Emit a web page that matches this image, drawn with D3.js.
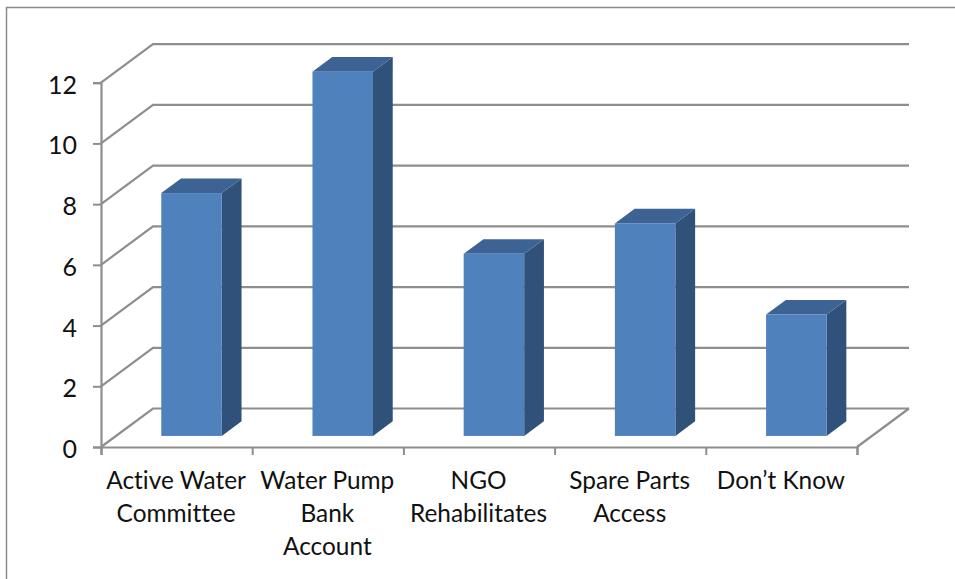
<!DOCTYPE html>
<html>
<head>
<meta charset="utf-8">
<script src="https://cdn.jsdelivr.net/npm/d3@7"></script>
<style>
html, body { margin: 0; padding: 0; background: #fff; }
svg { display: block; }
text { font-family: Lato, "Open Sans", sans-serif; fill: #111; font-variant-ligatures: none; }
</style>
</head>
<body>
<svg id="chart" width="955" height="579"></svg>
<script>
// Survey responses shown as a pseudo-3D column chart
const categories = ["Active Water Committee", "Water Pump Bank Account", "NGO Rehabilitates", "Spare Parts Access", "Don’t Know"];
const categoryLines = [["Active Water", "Committee"], ["Water Pump", "Bank", "Account"], ["NGO", "Rehabilitates"], ["Spare Parts", "Access"], ["Don’t Know"]];
const values = [8, 12, 6, 7, 4];
const yTicks = [0, 2, 4, 6, 8, 10, 12];

const gridColor = "#8e8e8e";
const frontFace = "#4f81bd", topFace = "#3c6394", sideFace = "#30517a";

const svg = d3.select("#chart");
const x = d3.scaleBand().domain(categories).range([101, 857]).padding(0);
const y = d3.scaleLinear().domain([0, 12]).range([447, 82.7]);

// Projection offset of the back wall, and how far the columns sit into the depth
const depthX = 52, depthY = -38.5;
const barInset = 0.287, barDepth = 0.38, barWidth = 60.5;

// Outer chart frame (top and left edges)
svg.append("path").attr("d", "M6.5,579V7.5H955").attr("fill", "none").attr("stroke", "#8a8a8a").attr("stroke-width", 1.5);

// Back-wall gridlines with their diagonals along the side wall
const grid = svg.append("g").attr("fill", "none").attr("stroke", gridColor).attr("stroke-width", 2.2);
grid.selectAll("path.wall").data(yTicks).join("path").attr("class", "wall")
  .attr("d", d => {
    const p = d3.path();
    p.moveTo(x.range()[0], y(d));
    p.lineTo(x.range()[0] + depthX, y(d) + depthY);
    p.lineTo(x.range()[1] + depthX, y(d) + depthY);
    return p.toString();
  });
// Right edge of the floor
grid.append("path").attr("d", () => {
  const p = d3.path();
  p.moveTo(x.range()[1], y(0));
  p.lineTo(x.range()[1] + depthX, y(0) + depthY);
  return p.toString();
});

// Axes
const axisY = d3.axisLeft(y).tickValues(yTicks).tickSize(8).tickPadding(16);
const gy = svg.append("g").attr("transform", "translate(101,0)").call(axisY);
const axisX = d3.axisBottom(d3.scaleLinear().domain([0, categories.length]).range(x.range()))
  .ticks(categories.length).tickSize(8).tickFormat("");
const gx = svg.append("g").attr("transform", `translate(0,${y(0)})`).call(axisX);
[gy, gx].forEach(g => {
  g.selectAll("path.domain").attr("stroke", gridColor).attr("stroke-width", 2.2);
  g.selectAll(".tick line").attr("stroke", gridColor).attr("stroke-width", 2);
});
gy.selectAll("text")
  .style("font-family", "Lato, 'Open Sans', sans-serif")
  .style("font-size", "25px")
  .attr("dy", "0.42em")
  .attr("fill", "#111");

// Columns: side, top, then front face
const bars = svg.append("g").selectAll("g").data(categories).join("g");
const left = c => x(c) + x.bandwidth() / 2 - barWidth / 2 + depthX * barInset;
const floorY = y(0) + depthY * barInset;
const topY = (i) => floorY - (y(0) - y(values[i]));
const dx = depthX * barDepth, dy = depthY * barDepth;
bars.append("path").attr("fill", sideFace)
  .attr("d", (c, i) => {
    const r = left(c) + barWidth;
    return `M${r},${topY(i)}L${r + dx},${topY(i) + dy}L${r + dx},${floorY + dy}L${r},${floorY}Z`;
  });
bars.append("path").attr("fill", topFace)
  .attr("d", (c, i) => {
    const l = left(c), t = topY(i);
    return `M${l},${t}L${l + dx},${t + dy}L${l + barWidth + dx},${t + dy}L${l + barWidth},${t}Z`;
  });
bars.append("rect").attr("fill", frontFace)
  .attr("x", c => left(c)).attr("width", barWidth)
  .attr("y", (c, i) => topY(i)).attr("height", (c, i) => floorY - topY(i));

// Wrapped category labels
const labels = svg.append("g").attr("text-anchor", "middle").style("font-size", "24.4px");
labels.selectAll("text").data(categories).join("text")
  .attr("transform", c => `translate(${x(c) + x.bandwidth() / 2 - 0.5},489)`)
  .selectAll("tspan").data((c, i) => categoryLines[i]).join("tspan")
  .attr("x", 0).attr("y", (d, i) => i * 33).text(d => d);
</script>
</body>
</html>
